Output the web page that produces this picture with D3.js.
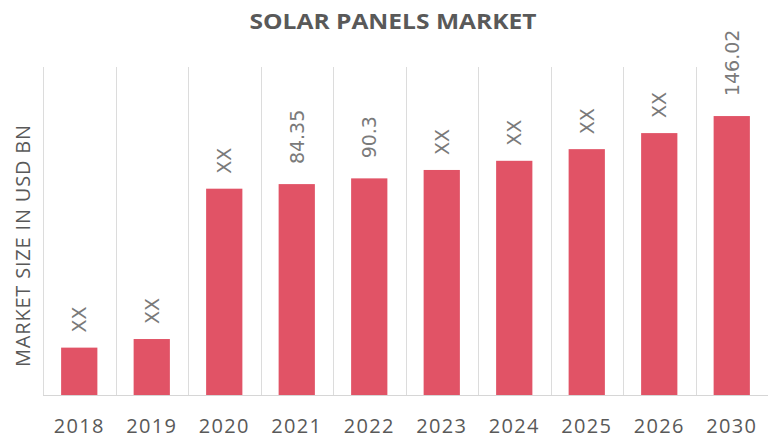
<!DOCTYPE html>
<html>
<head>
<meta charset="utf-8">
<script src="https://cdn.jsdelivr.net/npm/d3@7"></script>
<style>
  html, body { margin: 0; padding: 0; background: #fff; }
  svg { display: block; }
</style>
</head>
<body>
<svg id="chart" width="768" height="439"></svg>
<script>
const title = "SOLAR PANELS MARKET";
const yAxisTitle = "MARKET SIZE IN USD BN";
const categories = ["2018", "2019", "2020", "2021", "2022", "2023", "2024", "2025", "2026", "2030"];
const values = [24.8, 29.3, 108.0, 110.4, 113.4, 117.8, 122.6, 128.7, 137.1, 146.02];
const valueLabels = ["XX", "XX", "XX", "84.35", "90.3", "XX", "XX", "XX", "XX", "146.02"];
const yMax = 171.7;

const svg = d3.select("#chart");
const W = 768, H = 439;
const margin = { left: 43, right: 0, top: 67, bottom: 44 };

const x = d3.scaleBand()
  .domain(categories)
  .range([margin.left, W - margin.right])
  .padding(0);

const y = d3.scaleLinear()
  .domain([0, yMax])
  .range([H - margin.bottom, margin.top]);

// vertical gridlines at band boundaries
const bounds = categories.map(c => x(c));
svg.append("g")
  .selectAll("line")
  .data(bounds)
  .join("line")
  .attr("x1", d => Math.round(d) + 0.5)
  .attr("x2", d => Math.round(d) + 0.5)
  .attr("y1", y(yMax))
  .attr("y2", y(0))
  .attr("stroke", "#dcdcdc")
  .attr("stroke-width", 1);

// baseline
svg.append("line")
  .attr("x1", margin.left)
  .attr("x2", W)
  .attr("y1", Math.round(y(0)) + 0.5)
  .attr("y2", Math.round(y(0)) + 0.5)
  .attr("stroke", "#d6d6d6")
  .attr("stroke-width", 1);

// bars
const bw = x.bandwidth() * 0.5;
svg.append("g")
  .selectAll("rect")
  .data(values)
  .join("rect")
  .attr("x", (d, i) => x(categories[i]) + (x.bandwidth() - bw) / 2)
  .attr("y", d => y(d))
  .attr("width", bw)
  .attr("height", d => y(0) - y(d))
  .attr("fill", "#e15366");

// value labels
svg.append("g")
  .selectAll("text")
  .data(values)
  .join("text")
  .attr("transform", (d, i) => `translate(${x(categories[i]) + x.bandwidth() / 2},${y(d) - (valueLabels[i] === "XX" ? 15 : 20)}) rotate(-90)`)
  .attr("dy", "0.36em")
  .attr("text-anchor", "start")
  .attr("font-family", "'DejaVu Sans', sans-serif")
  .attr("font-size", 19)
  .attr("fill", "#7a7a7a")
  .text((d, i) => valueLabels[i]);

// x axis tick labels
const xAxis = d3.axisBottom(x).tickSize(0).tickPadding(0);
const gx = svg.append("g")
  .attr("transform", `translate(0,${y(0)})`)
  .call(xAxis);
gx.select(".domain").remove();
gx.selectAll("text")
  .attr("y", 38)
  .attr("dy", "0")
  .attr("font-family", "'Open Sans', sans-serif")
  .attr("font-size", 20)
  .attr("letter-spacing", "1.3px")
  .attr("fill", "#595959");

// y axis title
svg.append("text")
  .attr("transform", `translate(30,246) rotate(-90)`)
  .attr("text-anchor", "middle")
  .attr("font-family", "'Open Sans', sans-serif")
  .attr("font-size", 20)
  .attr("textLength", 242)
  .attr("lengthAdjust", "spacing")
  .attr("fill", "#595959")
  .text(yAxisTitle);

// title
svg.append("text")
  .attr("x", 393)
  .attr("y", 29)
  .attr("text-anchor", "middle")
  .attr("font-family", "'Open Sans', sans-serif")
  .attr("font-weight", "bold")
  .attr("font-size", 21)
  .attr("textLength", 287)
  .attr("lengthAdjust", "spacingAndGlyphs")
  .attr("fill", "#595959")
  .text(title);
</script>
</body>
</html>
